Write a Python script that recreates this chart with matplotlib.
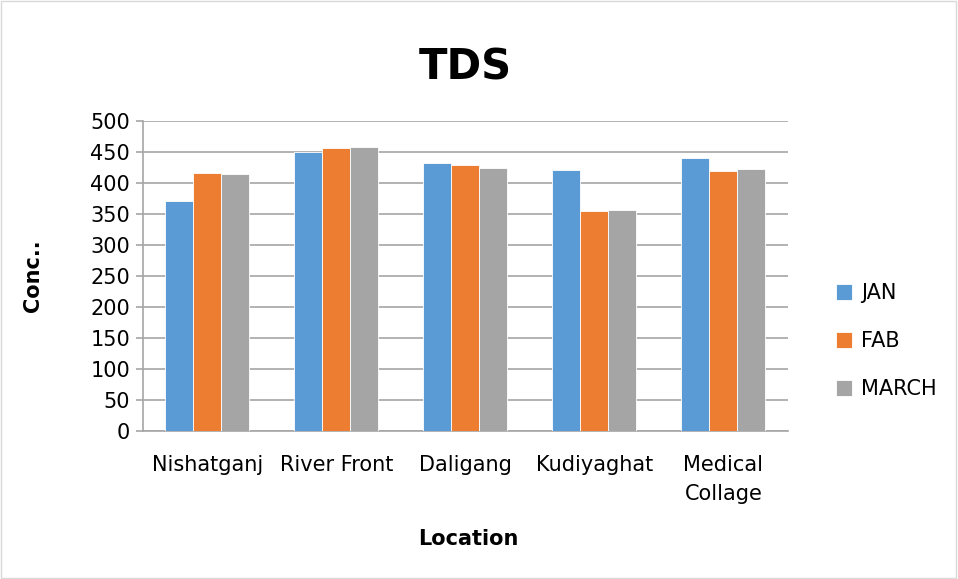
import matplotlib.pyplot as plt
import numpy as np

# ── Data ──────────────────────────────────────────────────────────────────────
locations = ["Nishatganj", "River Front", "Daligang", "Kudiyaghat", "Medical\nCollage"]
jan   = [371, 450, 432, 421, 440]
fab   = [416, 457, 429, 355, 420]
march = [415, 458, 425, 357, 422]
series_names = ["JAN", "FAB", "MARCH"]
y_ticks = [0, 50, 100, 150, 200, 250, 300, 350, 400, 450, 500]

_COLORS = ["#5b9bd5", "#ed7d31", "#a5a5a5"]
_GRID = "#a6a6a6"

plt.rcParams["font.family"] = ["DejaVu Sans"]

fig = plt.figure(figsize=(9.58, 5.79), dpi=100)
ax = fig.add_axes([0.149, 0.2556, 0.6735, 0.5354])

# figure border
fig.patches.append(plt.Rectangle((0.001, 0.001), 0.997, 0.997, transform=fig.transFigure,
                                 fill=False, edgecolor="#d9d9d9", linewidth=1))

x = np.arange(len(locations))
w = 0.217
for i, (vals, name) in enumerate(zip([jan, fab, march], series_names)):
    ax.bar(x + (i - 1) * w, vals, width=w, color=_COLORS[i], label=name,
           edgecolor="white", linewidth=0.6, zorder=3)

ax.set_xlim(-0.5, len(locations) - 0.5)
ax.set_ylim(0, 500)
ax.set_yticks(y_ticks)
ax.yaxis.grid(True, color=_GRID, linewidth=1.2, zorder=0)
ax.set_xticks(x)
ax.set_xticklabels(locations, fontsize=15, linespacing=1.6)
ax.tick_params(axis="x", length=0, pad=17)
ax.tick_params(axis="y", labelsize=15, length=5, color=_GRID, width=1.2, pad=4)

for side in ("top", "right"):
    ax.spines[side].set_visible(False)
for side in ("left", "bottom"):
    ax.spines[side].set_color(_GRID)
    ax.spines[side].set_linewidth(1.2)

ax.set_title("TDS", fontsize=30, fontweight="bold", pad=30)
ax.set_ylabel("Conc..", fontsize=15, fontweight="bold")
ax.yaxis.set_label_coords(-0.155, 0.5)
ax.set_xlabel("Location", fontsize=15, fontweight="bold")
ax.xaxis.set_label_coords(0.505, -0.315)

ax.legend(loc="center left", bbox_to_anchor=(1.045, 0.29), frameon=False,
          fontsize=15, handlelength=0.8, handleheight=0.8, labelspacing=1.35,
          handletextpad=0.4)

fig.savefig("out.png", dpi=100)
